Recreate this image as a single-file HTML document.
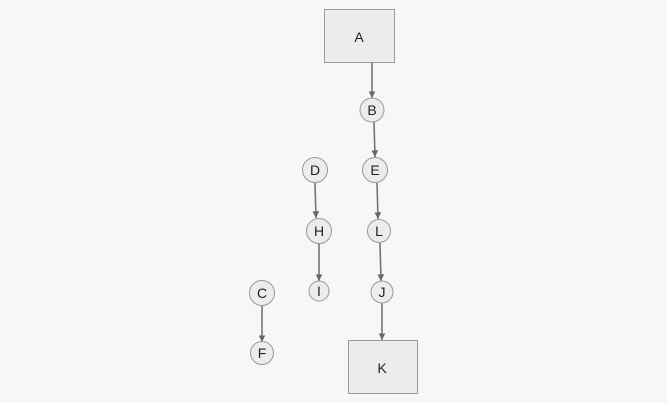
<!DOCTYPE html>
<html><head><style>
html,body{margin:0;padding:0;background:#f7f7f7;}
svg{display:block;font-family:"Liberation Sans",sans-serif;}
</style></head><body>
<svg width="667" height="403" viewBox="0 0 667 403">
<defs><marker id="ar" viewBox="0 0 10 10" refX="10" refY="5" markerWidth="4.5" markerHeight="4.5" orient="auto"><path d="M0,0L10,5L0,10z" fill="#666"/></marker></defs>
<rect width="667" height="403" fill="#f7f7f7"/>
<g stroke="#6e6e6e" stroke-width="1.5" fill="none" marker-end="url(#ar)">
<line x1="372" y1="63" x2="372" y2="98"/>
<line x1="374" y1="122" x2="375" y2="157"/>
<line x1="315" y1="183" x2="316" y2="218"/>
<line x1="377" y1="183" x2="378" y2="219"/>
<line x1="319" y1="244" x2="319" y2="281"/>
<line x1="380" y1="243" x2="381" y2="281"/>
<line x1="262" y1="306" x2="262" y2="342"/>
<line x1="382" y1="303" x2="382" y2="340"/>
</g>
<g stroke="#999" stroke-width="1" fill="#ececec">
<rect x="324.5" y="9.5" width="70" height="53"/>
<rect x="348.5" y="340.5" width="69" height="53"/>
<circle cx="372" cy="110" r="12"/>
<circle cx="375" cy="170" r="12.5"/>
<circle cx="315" cy="170" r="12.5"/>
<circle cx="319" cy="231" r="12.5"/>
<circle cx="379" cy="231" r="11.5"/>
<circle cx="319" cy="291" r="10"/>
<circle cx="382" cy="292" r="11"/>
<circle cx="262" cy="293" r="12.5"/>
<circle cx="262" cy="353" r="11.5"/>
</g>
<g font-size="14" fill="#222" text-anchor="middle" dominant-baseline="central">
<text x="359" y="37">A</text>
<text x="382" y="368">K</text>
<text x="372" y="110">B</text>
<text x="375" y="170">E</text>
<text x="315" y="170">D</text>
<text x="319" y="231">H</text>
<text x="379" y="231">L</text>
<text x="319" y="291">I</text>
<text x="382" y="292">J</text>
<text x="262" y="293">C</text>
<text x="262" y="353">F</text>
</g>
</svg>
</body></html>
